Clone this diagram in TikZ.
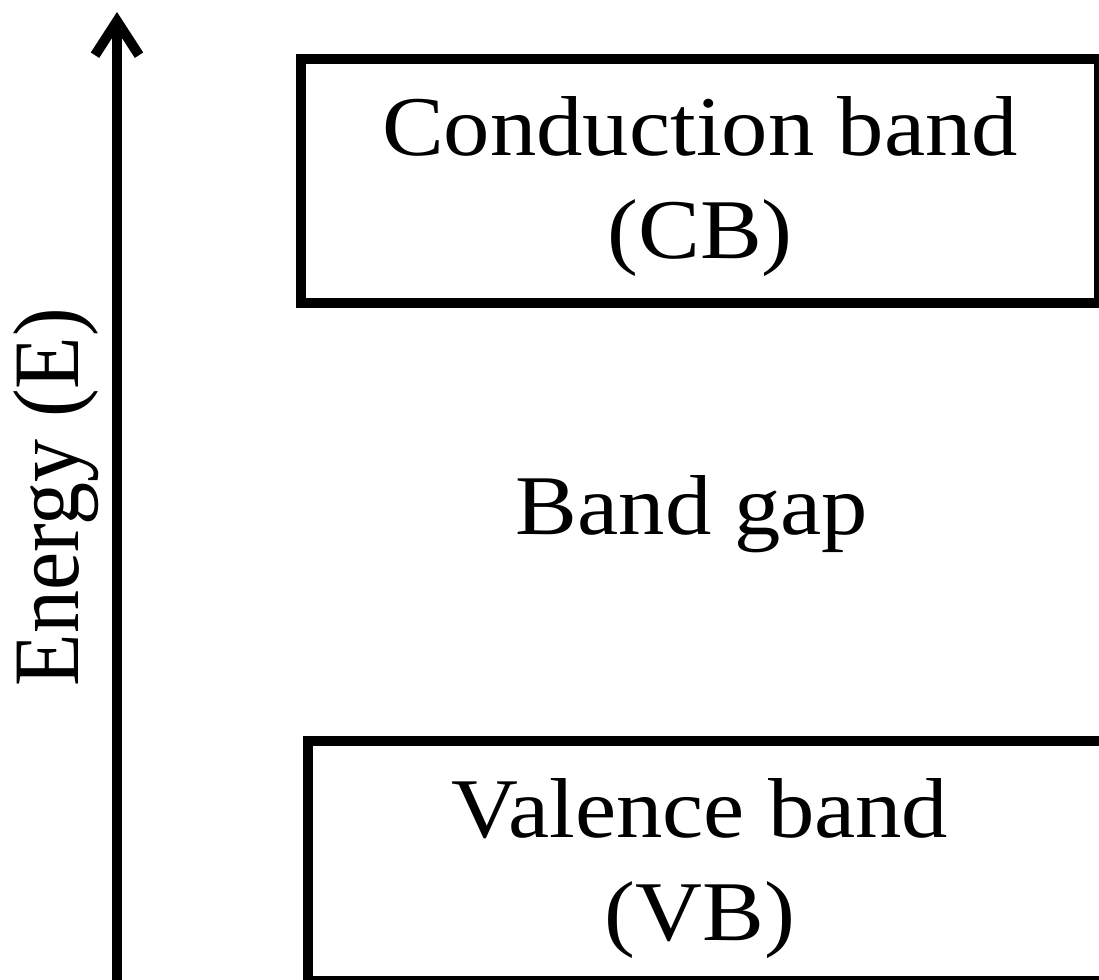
\documentclass[tikz,border=0pt]{standalone}
\usepackage{fontspec}
\setmainfont{Liberation Serif}[FakeStretch=1.09]
\newfontfamily\axisfont{Liberation Serif}
\usetikzlibrary{arrows.meta}
\begin{document}
\begin{tikzpicture}[x=1pt, y=-1pt,
  band/.style={draw=black, line width=10pt, inner sep=0pt, outer sep=0pt},
  bandlabel/.style={font=\fontsize{85}{103}\selectfont, align=center, anchor=base, inner sep=0pt},
  axis/.style={line width=10pt, -{Straight Barb[length=34pt, width=44pt, line width=10pt]}}]
\useasboundingbox (0,0) rectangle (1099,979);
\clip (0,0) rectangle (1099,979);
% conduction band (anchor is the baseline of the last line)
\node[band, minimum width=798pt, minimum height=243.5pt] (cb) at (700,181.25) {};
\node[bandlabel] (cbtext) at (700,258) {Conduction band\\(CB)};
% gap
\node[bandlabel] (gap) at (692,534) {Band gap};
% valence band
\node[band, minimum width=802pt, minimum height=240.5pt] (vb) at (709,860.75) {};
\node[bandlabel] (vbtext) at (700,940) {Valence band\\(VB)};
% energy axis
\coordinate (axisfoot) at (117,990);
\coordinate (axishead) at (117,12);
\draw[axis] (axisfoot) -- (axishead);
\node[rotate=90, anchor=base, inner sep=0pt, font=\axisfont\fontsize{86}{103}\selectfont] (energy) at (78,497) {\scalebox{1}[1.09]{Energy (E)}};
\end{tikzpicture}
\end{document}
